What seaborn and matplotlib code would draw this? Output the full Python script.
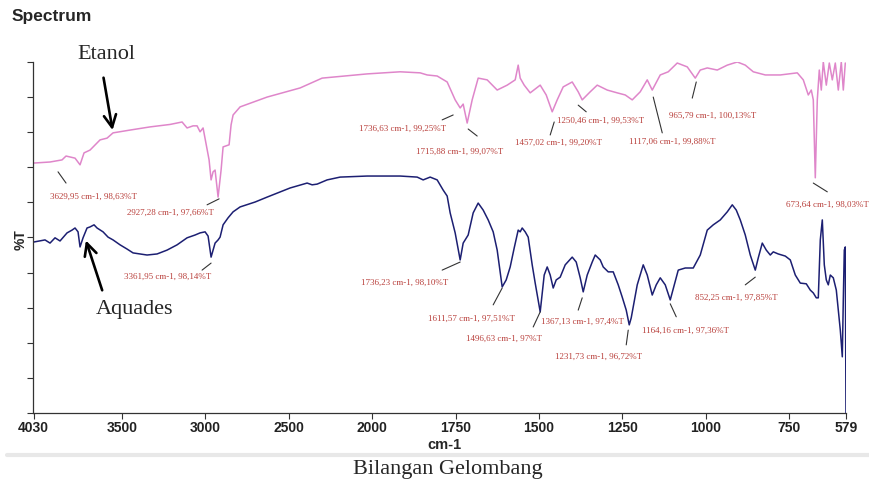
import numpy as np
import pandas as pd
import seaborn as sns
import matplotlib.pyplot as plt
from matplotlib.lines import Line2D

# %% spectra (wavenumber in cm-1, offset %T scale 0-10)

etanol_wn = [4030, 3932, 3860, 3836, 3782, 3752, 3728, 3692, 3632, 3590, 3554, 3452,
             3332, 3212, 3140, 3110, 3074, 3050, 3032, 3014, 2978, 2966, 2954, 2942,
             2924, 2906, 2894, 2876, 2858, 2846, 2834, 2792, 2630, 2432, 2300, 2030,
             1916, 1856, 1835, 1805, 1775, 1751, 1736, 1727, 1715, 1700, 1682, 1655,
             1625, 1595, 1571, 1562, 1556, 1544, 1526, 1496, 1478, 1460, 1445, 1427,
             1400, 1382, 1370, 1346, 1325, 1295, 1265, 1241, 1220, 1196, 1175, 1160,
             1136, 1112, 1085, 1055, 1031, 1016, 995, 965, 935, 905, 881, 857, 821,
             776, 725, 707, 692, 683, 677, 671, 665, 659, 653, 647, 638, 629, 620,
             611, 602, 593, 587, 581]
etanol_t = [7.12, 7.15, 7.21, 7.32, 7.26, 7.07, 7.41, 7.49, 7.78, 7.83, 7.98, 8.06,
            8.15, 8.22, 8.29, 8.12, 8.18, 8.18, 8.01, 8.12, 7.21, 6.64, 6.87, 6.92,
            6.15, 6.92, 7.58, 7.61, 7.64, 8.21, 8.49, 8.72, 9.00, 9.26, 9.54, 9.66,
            9.72, 9.69, 9.63, 9.60, 9.43, 8.92, 8.69, 8.80, 8.26, 8.92, 9.54, 9.49,
            9.20, 9.34, 9.49, 9.91, 9.54, 9.34, 9.12, 9.34, 9.06, 8.58, 8.92, 9.29,
            9.43, 9.15, 8.92, 9.15, 9.34, 9.20, 9.12, 9.06, 8.92, 9.15, 9.49, 9.20,
            9.63, 9.72, 9.97, 9.86, 9.54, 9.77, 9.83, 9.77, 9.91, 10.0, 9.91, 9.72, 9.63,
            9.63, 9.69, 9.49, 9.06, 9.20, 8.92, 6.70, 8.92, 9.77, 9.20, 10.0, 9.34, 9.97, 9.49,
            9.97, 9.20, 10.0, 9.20, 9.97]

aquades_wn = [4030, 3962, 3932, 3902, 3872, 3830, 3800, 3782, 3764, 3752, 3734, 3710,
              3692, 3668, 3650, 3614, 3584, 3554, 3512, 3470, 3434, 3392, 3350, 3290,
              3230, 3170, 3110, 3062, 3032, 3002, 2984, 2966, 2954, 2942, 2924, 2912,
              2894, 2864, 2834, 2792, 2702, 2630, 2492, 2390, 2360, 2330, 2270, 2192,
              2030, 1916, 1865, 1847, 1826, 1805, 1787, 1775, 1766, 1751, 1736, 1727,
              1712, 1697, 1682, 1667, 1652, 1637, 1625, 1610, 1598, 1586, 1574, 1562,
              1556, 1550, 1541, 1532, 1520, 1511, 1496, 1484, 1475, 1466, 1457, 1448,
              1436, 1421, 1400, 1388, 1376, 1367, 1355, 1340, 1331, 1316, 1307, 1292,
              1277, 1262, 1250, 1238, 1229, 1223, 1217, 1205, 1187, 1175, 1160, 1148,
              1136, 1121, 1106, 1094, 1082, 1061, 1037, 1016, 995, 977, 956, 935, 920,
              908, 896, 881, 866, 851, 842, 830, 818, 806, 797, 782, 761, 746, 731, 716,
              698, 686, 677, 668, 662, 656, 650, 644, 638, 632, 626, 617, 608, 602, 596,
              590, 587, 584, 581, 579]
aquades_t = [4.87, 4.93, 4.84, 4.99, 4.90, 5.13, 5.21, 5.27, 5.16, 4.73, 4.99, 5.27,
             5.30, 5.36, 5.27, 5.16, 5.01, 4.93, 4.79, 4.67, 4.56, 4.53, 4.50, 4.53,
             4.64, 4.79, 4.99, 5.07, 5.13, 5.16, 5.04, 4.44, 4.64, 4.84, 4.93, 5.01,
             5.36, 5.56, 5.73, 5.87, 6.01, 6.15, 6.41, 6.55, 6.50, 6.52, 6.64, 6.72,
             6.75, 6.75, 6.72, 6.64, 6.72, 6.64, 6.35, 6.18, 5.70, 5.13, 4.36, 4.84,
             5.07, 5.70, 5.98, 5.78, 5.50, 5.16, 4.64, 3.59, 3.79, 4.16, 4.70, 5.21,
             5.16, 5.27, 5.16, 5.01, 4.22, 3.70, 2.88, 3.93, 4.16, 3.93, 3.56, 3.79,
             3.87, 4.22, 4.44, 4.30, 3.85, 3.45, 3.93, 4.30, 4.50, 4.36, 4.16, 4.02,
             4.02, 3.65, 3.30, 2.93, 2.51, 2.71, 3.02, 3.65, 4.22, 3.93, 3.36, 3.65,
             3.85, 3.65, 3.22, 3.65, 4.07, 4.13, 4.13, 4.50, 5.21, 5.36, 5.50, 5.73, 5.93,
             5.78, 5.50, 5.07, 4.50, 4.07, 4.42, 4.84, 4.64, 4.50, 4.59, 4.53, 4.47, 4.36, 3.93, 3.70,
             3.68, 3.50, 3.42, 3.28, 3.28, 4.93, 5.50, 4.22, 3.79, 3.65, 3.93, 3.85, 3.50, 2.93, 2.36,
             1.60, 3.22, 4.64, 4.73, 0.0]

x_ticks = [4030, 3500, 3000, 2500, 2000, 1750, 1500, 1250, 1000, 750, 579]

# peak labels: text, text position (wn, y), leader line (wn0, y0, wn1, y1), alignment
peak_labels = [
    ("3629,95 cm-1, 98,63%T", 3674, 6.15, (3884, 6.87, 3836, 6.55), "center"),
    ("2927,28 cm-1, 97,66%T", 3212, 5.70, (2990, 5.93, 2918, 6.10), "center"),
    ("1736,63 cm-1, 99,25%T", 1910, 8.09, (1790, 8.35, 1757, 8.49), "center"),
    ("1715,88 cm-1, 99,07%T", 1739, 7.44, (1712, 8.09, 1685, 7.89), "center"),
    ("1457,02 cm-1, 99,20%T", 1442, 7.69, (1466, 7.92, 1454, 8.29), "center"),
    ("1250,46 cm-1, 99,53%T", 1316, 8.32, (1382, 8.77, 1358, 8.58), "center"),
    ("1117,06 cm-1, 99,88%T", 1100, 7.72, (1157, 9.00, 1130, 7.98), "center"),
    ("965,79 cm-1, 100,13%T", 980, 8.46, (1028, 9.43, 1040, 8.97), "center"),
    ("673,64 cm-1, 98,03%T", 758, 5.93, (677, 6.55, 635, 6.30), "left"),
    ("3361,95 cm-1, 98,14%T", 3224, 3.87, (3020, 4.07, 2966, 4.27), "center"),
    ("1736,23 cm-1, 98,10%T", 1904, 3.70, (1790, 4.07, 1736, 4.30), "center"),
    ("1611,57 cm-1, 97,51%T", 1703, 2.68, (1637, 3.08, 1610, 3.56), "center"),
    ("1496,63 cm-1, 97%T", 1604, 2.11, (1517, 2.45, 1496, 2.88), "center"),
    ("1367,13 cm-1, 97,4%T", 1370, 2.59, (1382, 2.93, 1370, 3.28), "center"),
    ("1231,73 cm-1, 96,72%T", 1322, 1.60, (1238, 1.94, 1232, 2.36), "center"),
    ("1164,16 cm-1, 97,36%T", 1061, 2.34, (1088, 2.74, 1106, 3.11), "center"),
    ("852,25 cm-1, 97,85%T", 908, 3.28, (881, 3.65, 851, 3.87), "center"),
]

etanol = pd.DataFrame({"wn": etanol_wn, "T": etanol_t})
aquades = pd.DataFrame({"wn": aquades_wn, "T": aquades_t})

# %% wavenumber axis is stretched x2 below 2000 cm-1

def fwd(x):
    x = np.asarray(x, dtype=float)
    return np.where(x > 2000, 2000 + (x - 2000) / 2, x)

def inv(u):
    u = np.asarray(u, dtype=float)
    return np.where(u > 2000, 2000 + (u - 2000) * 2, u)

# %% plot

sns.set_style("ticks")
plt.rcParams['font.family'] = ['Liberation Sans', 'DejaVu Sans']

fig = plt.figure(figsize=(8.69, 4.83), dpi=100)
ax = fig.add_axes([0.038, 0.145, 0.9355, 0.7267])

sns.lineplot(x="wn", y="T", data=etanol, color="#df86ca", linewidth=1.1,
             estimator=None, sort=False, ax=ax)
sns.lineplot(x="wn", y="T", data=aquades, color="#1c1f72", linewidth=1.1,
             estimator=None, sort=False, ax=ax)

ax.set_xscale("function", functions=(fwd, inv))
ax.set_xlim(4034, 579)
ax.set_ylim(0, 10)
ax.set_xticks(x_ticks)
ax.set_xticklabels([str(t) for t in x_ticks], fontsize=10, fontweight="bold", color="#222222")
ax.set_yticks(np.arange(0, 11, 1))
ax.set_yticklabels([])
ax.tick_params(axis="both", direction="out", length=4, width=0.8, color="#333333", pad=2)
ax.minorticks_off()
ax.set_xlabel("")
ax.set_ylabel("")
sns.despine(ax=ax, top=True, right=True)
for s in ["left", "bottom"]:
    ax.spines[s].set_color("#333333")
    ax.spines[s].set_linewidth(0.9)

for txt, tx, ty, (x0, y0, x1, y1), ha in peak_labels:
    ax.text(tx, ty, txt, fontsize=6.5, family="Liberation Serif", color="#b9403c",
            ha=ha, va="center", clip_on=False)
    ax.plot([x0, x1], [y0, y1], color="#333333", lw=0.8, clip_on=False)

ax.annotate("", xy=(3554, 7.98), xytext=(3614, 9.63), annotation_clip=False,
            arrowprops=dict(arrowstyle="->", lw=1.9, color="black", mutation_scale=22))
ax.text(3596, 10.2, "Etanol", fontsize=16, family="Liberation Serif", ha="center",
        va="center", clip_on=False)
ax.annotate("", xy=(3722, 4.99), xytext=(3614, 3.42), annotation_clip=False,
            arrowprops=dict(arrowstyle="->", lw=1.9, color="black", mutation_scale=22))
ax.text(3428, 2.96, "Aquades", fontsize=16, family="Liberation Serif", ha="center",
        va="center")

fig.text(0.0138, 0.965, "Spectrum", fontsize=12.5, fontweight="bold", ha="left", va="center")
fig.text(0.024, 0.503, "%T", fontsize=10, fontweight="bold", rotation=90,
         ha="center", va="center")
fig.text(0.511, 0.0787, "cm-1", fontsize=10.5, fontweight="bold", ha="center", va="center")
fig.add_artist(Line2D([0.008, 1.0], [0.058, 0.058], transform=fig.transFigure,
                      color="#e8e8e8", lw=3))
fig.text(0.5155, 0.027, "Bilangan Gelombang", fontsize=16, family="Liberation Serif",
         ha="center", va="center")

fig.savefig("out.png", dpi=100)
